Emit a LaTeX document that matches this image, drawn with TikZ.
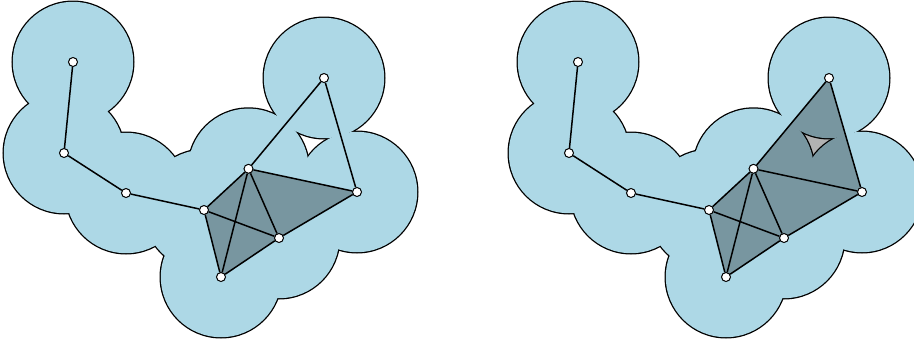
\documentclass[tikz,border=0pt]{standalone}
\usepackage{tikz}
\usetikzlibrary{positioning}
\definecolor{ballblue}{RGB}{173,216,230}

\begin{document}
\begin{tikzpicture}[x=1pt,y=-1pt,
  vertex/.style={circle,draw,fill=white,inner sep=0pt,minimum size=9pt,line width=1pt},
  edge/.style={line width=1.5pt},
  simplex/.style={fill=black,fill opacity=0.3}]
  \useasboundingbox (0,0) rectangle (914,343);
  \foreach \s/\dx in {a/0,b/505}{
    \begin{scope}[xshift=\dx]
      \foreach \i/\x/\y in {1/73/62,2/64/153,3/126/193,4/204/210,5/248.5/168.8,
                            6/279/238,7/221/277,8/324/78,9/357/192}
        \coordinate (\s\i) at (\x,\y);
    \end{scope}
    % union of balls: outline first, then the fill over it
    \foreach \i in {1,...,9} \draw[line width=2.6pt] (\s\i) circle (60.2pt);
    \foreach \i in {1,...,9} \fill[ballblue] (\s\i) circle (60.2pt);
  }
  \fill[simplex] (a4) -- (a5) -- (a9) -- (a6) -- (a7) -- cycle;
  \fill[simplex] (b4) -- (b5) -- (b8) -- (b9) -- (b6) -- (b7) -- cycle;
  \foreach \s in {a,b}{
    \foreach \i in {1,...,9} \node[vertex] (\s\i-v) at (\s\i) {};
    \foreach \i/\j in {1/2,2/3,3/4,4/5,4/6,4/7,5/6,5/7,6/7,5/8,5/9,8/9,6/9}
      \draw[edge] (\s\i-v) -- (\s\j-v);
  }
\end{tikzpicture}
\end{document}
